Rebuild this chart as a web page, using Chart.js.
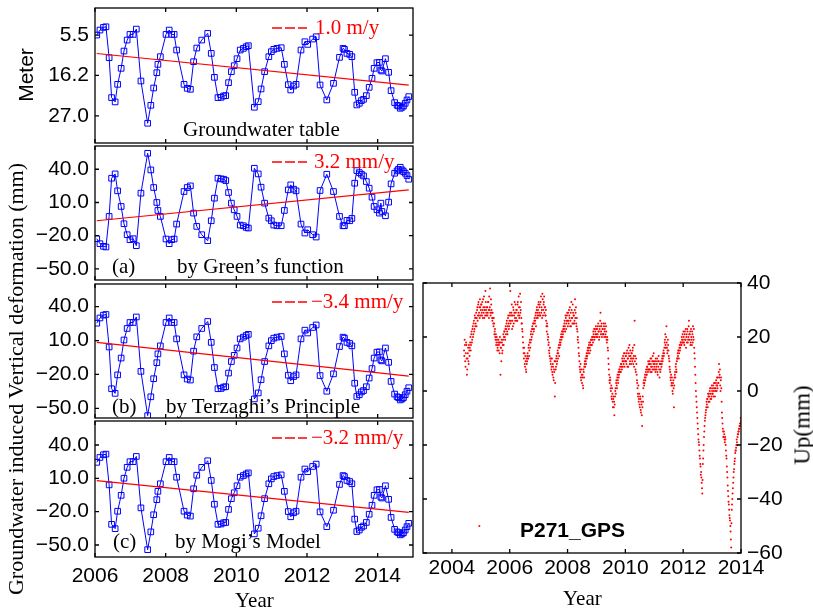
<!DOCTYPE html>
<html>
<head>
<meta charset="utf-8">
<script src="https://cdn.jsdelivr.net/npm/chart.js@4.4.1/dist/chart.umd.min.js"></script>
<style>
  body { margin: 0; background: #fff; }
  #wrap { position: relative; width: 813px; height: 612px; overflow: hidden; }
  canvas { position: absolute; left: 0; top: 0; }
  .t { position: absolute; white-space: nowrap; line-height: 1; }
  .serif { font-family: "Liberation Serif", "Times New Roman", serif; font-size: 21px; }
  .sans { font-family: "Liberation Sans", Arial, sans-serif; font-size: 21px; }
  .red { color: #ff0000; }
  .rot { transform: translate(-50%, -50%) rotate(-90deg); }
  .dash { position: absolute; }
</style>
</head>
<body>
<div id="wrap">
  <canvas id="gw-chart" width="813" height="612"></canvas>
  <canvas id="green-chart" width="813" height="612"></canvas>
  <canvas id="terzaghi-chart" width="813" height="612"></canvas>
  <canvas id="mogi-chart" width="813" height="612"></canvas>
  <canvas id="gps-chart" width="813" height="612"></canvas>

  <div class="t sans rot" style="left:25px; top:75px;">Meter</div>
  <div class="t serif rot" style="left:16px; top:379px; font-size:22px;">Groundwater induced Vertical deformation (mm)</div>

  <svg class="dash" style="left:272px; top:26px;" width="36" height="4"><line x1="0" y1="2" x2="35" y2="2" stroke="#ff0000" stroke-width="1.3" stroke-dasharray="10,3"/></svg>
  <div class="t serif red" style="left:315px; top:17px;">1.0 m/y</div>
  <div class="t serif" style="left:183px; top:119px;">Groundwater table</div>

  <svg class="dash" style="left:272px; top:160px;" width="36" height="4"><line x1="0" y1="2" x2="35" y2="2" stroke="#ff0000" stroke-width="1.3" stroke-dasharray="10,3"/></svg>
  <div class="t serif red" style="left:314px; top:151px;">3.2 mm/y</div>
  <div class="t serif" style="left:112px; top:256px;">(a)</div>
  <div class="t serif" style="left:177px; top:256px;">by Green’s function</div>

  <svg class="dash" style="left:272px; top:300px;" width="36" height="4"><line x1="0" y1="2" x2="35" y2="2" stroke="#ff0000" stroke-width="1.3" stroke-dasharray="10,3"/></svg>
  <div class="t serif red" style="left:311px; top:291px;">−3.4 mm/y</div>
  <div class="t serif" style="left:112px; top:396px;">(b)</div>
  <div class="t serif" style="left:166px; top:396px;">by Terzaghi’s Principle</div>

  <svg class="dash" style="left:272px; top:436px;" width="36" height="4"><line x1="0" y1="2" x2="35" y2="2" stroke="#ff0000" stroke-width="1.3" stroke-dasharray="10,3"/></svg>
  <div class="t serif red" style="left:311px; top:427px;">−3.2 mm/y</div>
  <div class="t serif" style="left:113px; top:531px;">(c)</div>
  <div class="t serif" style="left:175px; top:531px;">by Mogi’s Model</div>

  <div class="t serif" style="left:235px; top:590px;">Year</div>
  <div class="t serif" style="left:563px; top:588px;">Year</div>
  <div class="t serif rot" style="left:802px; top:425px; font-size:23px;">Up(mm)</div>
  <div class="t sans" style="left:520px; top:519px; font-weight:bold;">P271_GPS</div>
</div>

<script>
// ==============================
// Data
// ==============================

// sample dates shared by the groundwater and modelled deformation series
const sampleYears = [
  2006.05, 2006.14, 2006.24, 2006.31, 2006.40, 2006.47, 2006.57, 2006.64, 2006.74, 2006.82,
  2006.91, 2006.99, 2007.08, 2007.17, 2007.30, 2007.49, 2007.58, 2007.66, 2007.75, 2007.78,
  2007.85, 2008.01, 2008.10, 2008.17, 2008.24, 2008.31, 2008.52, 2008.61, 2008.70, 2008.79,
  2008.88, 2009.02, 2009.19, 2009.29, 2009.38, 2009.48, 2009.57, 2009.64, 2009.70, 2009.78,
  2009.86, 2009.94, 2010.02, 2010.11, 2010.20, 2010.28, 2010.34, 2010.51, 2010.62, 2010.70,
  2010.80, 2010.92, 2010.99, 2011.06, 2011.15, 2011.27, 2011.36, 2011.47, 2011.54, 2011.62,
  2011.69, 2011.83, 2011.94, 2012.02, 2012.16, 2012.26, 2012.37, 2012.56, 2012.75, 2012.92,
  2013.02, 2013.06, 2013.13, 2013.21, 2013.27, 2013.35, 2013.41, 2013.48, 2013.54, 2013.60,
  2013.68, 2013.76, 2013.84, 2013.90, 2013.98, 2014.05, 2014.09, 2014.12, 2014.22, 2014.31,
  2014.38, 2014.48, 2014.55, 2014.59, 2014.64, 2014.69, 2014.73, 2014.78, 2014.83, 2014.88
];

// groundwater table depth (m)
const gwDepth = [
  5.50, 4.17, 3.46, 3.29, 11.52, 22.13, 23.28, 18.60, 14.35, 9.75,
  6.83, 5.32, 5.32, 3.91, 17.71, 28.95, 24.17, 19.57, 15.50, 13.29,
  11.25, 5.32, 4.17, 5.32, 5.32, 9.48, 18.60, 19.66, 19.92, 12.58,
  8.95, 6.83, 5.06, 10.37, 16.74, 22.13, 22.05, 21.69, 21.60, 18.15,
  15.23, 13.64, 11.78, 9.48, 9.04, 8.60, 8.33, 24.70, 23.20, 19.83,
  15.23, 11.25, 9.92, 9.30, 9.04, 8.86, 13.29, 18.68, 20.10, 19.04,
  18.60, 9.48, 7.27, 7.98, 6.56, 5.94, 18.77, 22.75, 18.33, 11.43,
  9.04, 9.30, 10.37, 10.63, 11.25, 20.72, 24.08, 23.64, 22.93, 22.58,
  21.60, 19.39, 17.00, 14.35, 12.84, 12.76, 14.79, 15.06, 11.78, 15.41,
  20.28, 23.46, 24.17, 24.35, 24.97, 24.70, 24.35, 23.64, 22.75, 21.87
];

// (a) deformation by Green's function (mm)
const defGreen = [
  -22.7, -27.2, -29.6, -30.2, -2.6, 31.9, 35.8, 20.5, 6.4, -9.2,
  -19.1, -23.6, -22.7, -29.0, 18.4, 54.4, 39.4, 23.5, 10.0, 2.8,
  -2.6, -23.0, -27.2, -23.6, -23.0, -9.5, 19.9, 23.5, 25.0, 0.4,
  -11.6, -19.1, -24.5, -6.5, 13.9, 31.9, 31.3, 31.0, 29.8, 19.0,
  9.4, 3.4, -2.6, -10.4, -11.0, -12.5, -13.1, 40.9, 35.8, 23.8,
  9.4, -4.1, -6.5, -10.4, -11.0, -11.0, 2.8, 21.4, 25.9, 22.0,
  20.5, -9.5, -17.6, -14.6, -19.1, -21.2, 20.8, 35.5, 19.9, -2.6,
  -11.0, -11.0, -6.2, -6.5, -4.4, 27.4, 38.8, 37.0, 35.5, 34.0,
  28.9, 22.9, 14.8, 6.4, 3.4, 0.4, 9.4, 1.9, -2.0, 10.3,
  26.8, 36.4, 38.5, 40.0, 41.8, 39.4, 37.9, 36.4, 34.3, 31.0
];

// (b) deformation by Terzaghi's principle (mm)
const defTerzaghi = [
  25.4, 30.0, 32.5, 33.1, 4.3, -32.7, -36.8, -20.4, -5.5, 10.5,
  20.7, 26.0, 26.0, 30.9, -17.3, -56.5, -39.8, -23.8, -9.6, -1.8,
  5.3, 26.0, 30.0, 26.0, 26.0, 11.5, -20.4, -24.1, -25.0, 0.6,
  13.3, 20.7, 26.9, 8.4, -13.9, -32.7, -32.4, -31.2, -30.9, -18.8,
  -8.6, -3.1, 3.4, 11.5, 13.0, 14.5, 15.5, -41.7, -36.4, -24.7,
  -8.6, 5.3, 9.9, 12.1, 13.0, 13.6, -1.8, -20.7, -25.6, -21.9,
  -20.4, 11.5, 19.2, 16.7, 21.6, 23.8, -21.0, -34.9, -19.5, 4.7,
  13.0, 12.1, 8.4, 7.4, 5.3, -27.8, -39.5, -38.0, -35.5, -34.3,
  -30.9, -23.2, -14.8, -5.5, -0.3, 0.0, -7.1, -8.0, 3.4, -9.3,
  -26.2, -37.4, -39.8, -40.5, -42.6, -41.7, -40.5, -38.0, -34.9, -31.8
];

// (c) deformation by Mogi's model (mm)
const defMogi = [
  24.4, 28.8, 31.2, 31.8, 4.1, -31.4, -35.3, -19.6, -5.3, 10.1,
  19.9, 25.0, 25.0, 29.7, -16.6, -54.2, -38.2, -22.8, -9.2, -1.7,
  5.1, 25.0, 28.8, 25.0, 25.0, 11.0, -19.6, -23.1, -24.0, 0.6,
  12.8, 19.9, 25.8, 8.1, -13.3, -31.4, -31.1, -30.0, -29.7, -18.0,
  -8.3, -3.0, 3.3, 11.0, 12.5, 13.9, 14.9, -40.0, -34.9, -23.7,
  -8.3, 5.1, 9.5, 11.6, 12.5, 13.1, -1.7, -19.9, -24.6, -21.0,
  -19.6, 11.0, 18.4, 16.0, 20.7, 22.8, -20.2, -33.5, -18.7, 4.5,
  12.5, 11.6, 8.1, 7.1, 5.1, -26.7, -37.9, -36.5, -34.1, -32.9,
  -29.7, -22.3, -14.2, -5.3, -0.3, 0.0, -6.8, -7.7, 3.3, -8.9,
  -25.2, -35.9, -38.2, -38.9, -40.9, -40.0, -38.9, -36.5, -33.5, -30.5
];

// linear trends (end points)
const trendYears = [2006.05, 2014.88];
const gwTrend = [10.4, 18.8];
const greenTrend = [-6.5, 21.4];
const terzaghiTrend = [8.4, -21.5];
const mogiTrend = [7.9, -20.6];

// P271 GPS vertical (mm); two interleaved runs, each one value every 0.02 yr
const gpsStart = 2004.42;
const gpsStep = 0.02;
const gpsUp = [
  15, 19, 11, 14, 17, 6, 12, 16, 10, 15,
  16, 20, 17, 22, 19, 24, 21, 26, 23, 27,
  25, 29, 27, 31, 28, 33, 29, 27, 31, 30,
  32, 28, 30, 34, 29, 27, 31, 37, 30, 28,
  31, 29, 33, 27, 30, 38, 28, 32, 29, 26,
  27, 24, 25, 22, 20, 21, 18, 19, 16, 18,
  15, 18, 20, 6, 16, 19, 14, 17, 21, 20,
  22, 19, 24, 23, 26, 21, 27, 25, 24, 28,
  37, 26, 29, 23, 28, 31, 25, 29, 27, 32,
  27, 30, 26, 33, 29, 31, 28, 36, 30, 27,
  25, 22, 18, 14, 16, 10, 13, 8, 12, 11,
  14, 12, 17, 15, 19, 18, 22, 20, 24, 23,
  25, 23, 27, 26, 29, 27, 31, 28, 30, 33,
  29, 32, 28, 35, 31, 27, 34, 30, 33, 29,
  31, 28, 26, 22, 24, 19, 17, 15, 13, 12,
  10, 8, 12, 6, 9, 4, 7, -2, 11, 9,
  13, 11, 15, 14, 17, 16, 19, 18, 21, 20,
  22, 21, 24, 23, 26, 22, 27, 25, 28, 26,
  29, 25, 28, 31, 26, 24, 30, 27, 32, 25,
  28, 26, 34, 29, 25, 27, 22, 20, 16, 13,
  9, 7, 5, 8, 3, 6, 1, 7, 9, 11,
  12, 10, 14, 13, 16, 15, 17, 14, 18, 17,
  19, 17, 20, 18, 21, 23, 20, 22, 24, 21,
  23, 21, 25, 22, 20, 24, 29, 22, 25, 21,
  23, 21, 24, 22, 25, 20, 22, 18, 19, 15,
  10, 6, 3, 4, 0, -2, 1, -4, -3, -6,
  -9, -2, 1, 3, 2, 5, 4, 7, 6, 8,
  9, 7, 10, 8, 11, 13, 10, 12, 14, 11,
  13, 10, 15, 12, 9, 14, 17, 11, 13, 10,
  14, 11, 16, 12, 9, 26, 13, 7, 10, 4,
  1, -2, -4, -1, -6, -3, -8, -5, -13, -2,
  1, 4, 3, 6, 5, 8, 6, 9, 7, 10,
  8, 11, 7, 10, 12, 9, 8, 11, 14, 9,
  10, 7, 11, 8, 12, 6, 9, 11, 5, 10,
  8, 11, 10, 13, 12, 15, 14, 18, 21, 16,
  24, 16, 15, 17, 13, 11, 8, 5, 6, 3,
  2, -1, 4, -6, 5, 7, 9, 8, 11, 12,
  13, 15, 14, 17, 16, 18, 17, 19, 21, 18,
  20, 17, 22, 19, 16, 21, 23, 18, 20, 26,
  19, 22, 18, 20, 17, 21, 24, 19, 16, 12,
  6, 0, -4, -8, -12, -16, -19, -22, -25, -28,
  -30, -34, -38, -27, -22, -17, -13, -10, -8, -6,
  -5, -3, -1, -4, -2, 0, -3, 1, -2, 0,
  -1, 2, 0, 3, -2, 1, 4, 0, 2, 5,
  3, 10, 6, 2, 4, 1, -8, -12, -15, -17,
  -16, -19, -18, -22, -25, -30, -35, -39, -42, -46,
  -48, -52, -58, -44, -40, -36, -32, -29, -26, -23,
  -22, -20, -19, -17, -16, -15, -14, -13, -12, -11
];
// second run, offset by half a step
const gpsUpB = [
  13, 17, 9, 18, 12, 8, 14, 11, 17, 13,
  18, 15, 21, 18, 23, 20, 25, 22, 28, 24,
  27, 24, 30, 26, 32, 28, 31, 34, 28, 32,
  29, 33, 27, 31, 35, 30, 28, 33, 29, 31,
  28, 33, 30, 35, 31, 29, 34, 30, 27, 29,
  25, 27, 21, 23, 19, 17, 20, 15, 17, 19,
  17, 14, 18, 16, 11, 18, 15, 19, 17, 22,
  20, 23, 21, 25, 22, 24, 28, 23, 26, 29,
  25, 28, 32, 26, 24, 30, 28, 33, 26, 29,
  30, 26, 32, 28, 35, 27, 31, 29, 33, 25,
  23, 20, 16, 12, 14, 9, 11, 7, 10, 13,
  12, 16, 13, 18, 16, 21, 19, 23, 21, 25,
  22, 26, 25, 28, 24, 30, 29, 27, 32, 28,
  31, 28, 33, 29, 30, 36, 28, 32, 35, 31,
  28, 30, 24, 25, 21, 20, 18, 14, 16, 11,
  12, 9, 7, 10, 5, 8, 11, 3, 8, 12,
  10, 14, 12, 16, 13, 18, 17, 20, 19, 22,
  20, 23, 22, 25, 24, 28, 23, 26, 29, 24,
  26, 30, 27, 24, 29, 33, 27, 25, 29, 28,
  25, 30, 27, 31, 24, 23, 19, 18, 14, 11,
  8, 10, 4, 6, 5, 2, 8, 5, 10, 9,
  11, 13, 12, 15, 14, 16, 18, 16, 15, 19,
  17, 20, 19, 22, 20, 19, 23, 21, 20, 23,
  20, 24, 22, 19, 23, 26, 21, 24, 20, 23,
  21, 25, 20, 23, 21, 24, 19, 20, 16, 12,
  8, 4, 5, 1, 2, -3, -1, -6, -2, -4,
  -5, 0, -1, 4, 1, 6, 3, 5, 8, 7,
  7, 10, 9, 12, 9, 11, 14, 9, 11, 13,
  11, 14, 9, 12, 16, 13, 10, 15, 12, 14,
  12, 15, 10, 13, 17, 11, 8, 12, 6, 3,
  -1, 2, -3, -5, -2, -7, -4, -9, -6, -4,
  3, 2, 5, 4, 7, 6, 9, 8, 11, 8,
  10, 8, 12, 9, 7, 11, 13, 10, 8, 11,
  8, 12, 9, 10, 7, 11, 13, 8, 10, 7,
  10, 9, 12, 11, 14, 13, 16, 19, 17, 20,
  18, 14, 19, 15, 12, 9, 7, 4, 2, 5,
  0, 3, 1, 2, 6, 5, 10, 7, 12, 14,
  15, 12, 16, 15, 18, 17, 20, 18, 19, 22,
  18, 21, 19, 23, 20, 18, 22, 19, 24, 21,
  21, 17, 23, 19, 22, 18, 20, 23, 14, 9,
  3, -2, -6, -10, -14, -18, -20, -24, -27, -31,
  -32, -36, -33, -25, -20, -15, -11, -9, -7, -4,
  -3, -6, -2, -1, -4, 1, -1, -3, 2, -1,
  1, -2, 3, 1, 0, 3, 2, 5, 1, 3,
  7, 5, 8, 0, 5, -4, -10, -14, -17, -15,
  -18, -17, -20, -24, -28, -32, -37, -41, -44, -47,
  -50, -55, -49, -42, -38, -34, -30, -27, -25, -22,
  -21, -18, -20, -16, -15, -14, -13, -12, -10, -12
];
const gpsOutlierYears = [2004.95];
const gpsOutlierUp = [-50];

// tick values
const leftYearTicks = [2006, 2008, 2010, 2012, 2014];
const gpsYearTicks = [2004, 2006, 2008, 2010, 2012, 2014];
const gwTicks = [5.5, 16.2, 27.0];
const defTicks = [40, 10, -20, -50];
const gpsTicks = [40, 20, 0, -20, -40, -60];

// ==============================
// Helpers
// ==============================

const PAGE_W = 813;
const PAGE_H = 612;
const SANS = '"Liberation Sans", Arial, sans-serif';

function pairs(xs, ys) {
    return xs.map(function (x, i) {
        return { x: x, y: ys[i] };
    });
}

function runPoints(values, start) {
    return values.map(function (v, i) {
        return { x: start + i * gpsStep, y: v };
    });
}

function fmt(value, digits) {
    const s = Math.abs(value).toFixed(digits);
    return value < 0 ? "\u2212" + s : s;
}

function fixedSize(size, horizontal) {
    return function (scale) {
        if (horizontal) scale.height = size; else scale.width = size;
        scale.paddingTop = 0;
        scale.paddingBottom = 0;
        scale.paddingLeft = 0;
        scale.paddingRight = 0;
    };
}

// box round the plot area with short inward ticks, matlab style
const frameTicks = {
    id: "frameTicks",
    afterDatasetsDraw(chart) {
        const ctx = chart.ctx;
        const a = chart.chartArea;
        const x = chart.scales.x;
        const y = chart.scales.y;
        const len = 4;
        ctx.save();
        ctx.strokeStyle = "#000";
        ctx.lineWidth = 1.3;
        ctx.strokeRect(a.left, a.top, a.right - a.left, a.bottom - a.top);
        ctx.beginPath();
        x.ticks.forEach(function (t) {
            const px = x.getPixelForValue(t.value);
            ctx.moveTo(px, a.bottom); ctx.lineTo(px, a.bottom - len);
            ctx.moveTo(px, a.top); ctx.lineTo(px, a.top + len);
        });
        y.ticks.forEach(function (t) {
            const py = y.getPixelForValue(t.value);
            ctx.moveTo(a.left, py); ctx.lineTo(a.left + len, py);
            ctx.moveTo(a.right, py); ctx.lineTo(a.right - len, py);
        });
        ctx.stroke();
        ctx.restore();
    }
};

function seriesSet(values) {
    return {
        data: pairs(sampleYears, values),
        showLine: true,
        borderColor: "#0000ff",
        borderWidth: 1,
        pointStyle: "rect",
        pointRadius: 4,
        pointBorderColor: "#0000ff",
        pointBackgroundColor: "rgba(0,0,0,0)",
        pointBorderWidth: 1
    };
}

function trendSet(values) {
    return {
        data: pairs(trendYears, values),
        showLine: true,
        borderColor: "#ff0000",
        borderWidth: 1.2,
        pointRadius: 0
    };
}

function makePanel(id, area, cfg) {
    const yw = 80;
    const xh = 40;
    const yRight = cfg.yPos === "right";
    const padding = {
        left: yRight ? area.l : area.l - yw,
        right: yRight ? PAGE_W - area.r - yw : PAGE_W - area.r,
        top: area.t,
        bottom: PAGE_H - area.b - xh
    };
    return new Chart(document.getElementById(id), {
        type: "scatter",
        data: { datasets: cfg.datasets },
        options: {
            responsive: false,
            animation: false,
            devicePixelRatio: 1,
            layout: { padding: padding },
            plugins: { legend: { display: false }, tooltip: { enabled: false } },
            scales: {
                x: {
                    type: "linear",
                    position: "bottom",
                    min: cfg.xMin,
                    max: cfg.xMax,
                    afterBuildTicks: function (s) {
                        s.ticks = cfg.xTicks.map(function (v) { return { value: v }; });
                    },
                    afterFit: fixedSize(xh, true),
                    grid: { display: false, drawTicks: false },
                    border: { display: false },
                    ticks: {
                        display: !!cfg.showX,
                        padding: cfg.xPad,
                        color: "#000",
                        font: { family: SANS, size: 21 },
                        maxRotation: 0,
                        callback: function (v) { return String(v); }
                    }
                },
                y: {
                    type: "linear",
                    position: yRight ? "right" : "left",
                    min: cfg.yMin,
                    max: cfg.yMax,
                    reverse: !!cfg.reverse,
                    afterBuildTicks: function (s) {
                        s.ticks = cfg.yTicks.map(function (v) { return { value: v }; });
                    },
                    afterFit: fixedSize(yw, false),
                    grid: { display: false, drawTicks: false },
                    border: { display: false },
                    ticks: {
                        padding: 6,
                        color: "#000",
                        font: { family: SANS, size: 21 },
                        callback: function (v) { return fmt(v, cfg.yDigits); }
                    }
                }
            }
        },
        plugins: [frameTicks]
    });
}

// ==============================
// Create Charts
// ==============================

makePanel("gw-chart", { l: 95, t: 8, r: 413, b: 143 }, {
    datasets: [trendSet(gwTrend), seriesSet(gwDepth)],
    xMin: 2006, xMax: 2015, xTicks: leftYearTicks, showX: false,
    yMin: -1.7, yMax: 34.2, yTicks: gwTicks, yDigits: 1, reverse: true
});

makePanel("green-chart", { l: 95, t: 146, r: 413, b: 280 }, {
    datasets: [trendSet(greenTrend), seriesSet(defGreen)],
    xMin: 2006, xMax: 2015, xTicks: leftYearTicks, showX: false,
    yMin: -60, yMax: 61, yTicks: defTicks, yDigits: 1
});

makePanel("terzaghi-chart", { l: 95, t: 284, r: 413, b: 418 }, {
    datasets: [trendSet(terzaghiTrend), seriesSet(defTerzaghi)],
    xMin: 2006, xMax: 2015, xTicks: leftYearTicks, showX: false,
    yMin: -58.6, yMax: 60.1, yTicks: defTicks, yDigits: 1
});

makePanel("mogi-chart", { l: 95, t: 421, r: 413, b: 557 }, {
    datasets: [trendSet(mogiTrend), seriesSet(defMogi)],
    xMin: 2006, xMax: 2015, xTicks: leftYearTicks, showX: true, xPad: 7,
    yMin: -60.8, yMax: 61.6, yTicks: defTicks, yDigits: 1
});

const gpsPoints = runPoints(gpsUp, gpsStart)
    .concat(runPoints(gpsUpB, gpsStart + gpsStep / 2))
    .concat(pairs(gpsOutlierYears, gpsOutlierUp));

makePanel("gps-chart", { l: 423, t: 283, r: 741, b: 553 }, {
    datasets: [{
        data: gpsPoints,
        showLine: false,
        pointStyle: "circle",
        pointRadius: 1,
        pointBorderWidth: 0,
        pointBackgroundColor: "#ff0000"
    }],
    xMin: 2003, xMax: 2014, xTicks: gpsYearTicks, showX: true, xPad: 3,
    yMin: -60, yMax: 40, yTicks: gpsTicks, yDigits: 0, yPos: "right"
});
</script>
</body>
</html>
